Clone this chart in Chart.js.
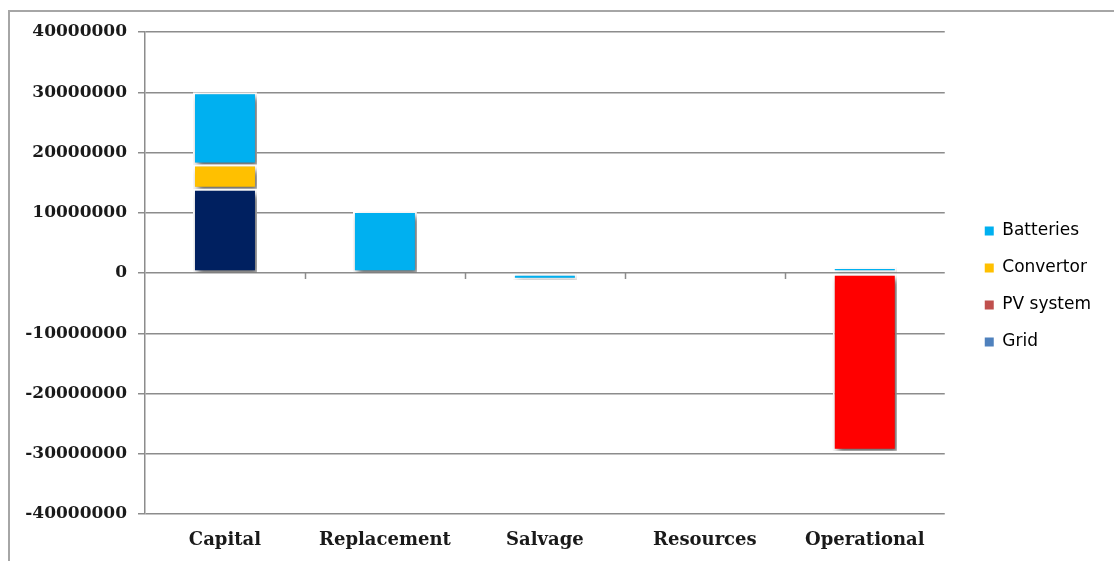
<!DOCTYPE html>
<html>
<head>
<meta charset="utf-8">
<script src="https://cdn.jsdelivr.net/npm/chart.js@4/dist/chart.umd.min.js"></script>
<style>
  html, body { margin: 0; padding: 0; background: #fff; }
  #wrap { width: 1114px; height: 561px; position: relative; }
</style>
</head>
<body>
<div id="wrap"><canvas id="c" width="1114" height="561"></canvas></div>
<script>
// Cost categories and the contribution of each component (currency units)
const categories = ['Capital', 'Replacement', 'Salvage', 'Resources', 'Operational'];
const batteries  = [12000000, 10300000, -1100000, null, 1000000];
const convertor  = [4000000, null, null, null, null];
const pvSystem   = [14000000, null, null, null, null];
const grid       = [null, null, null, null, -29500000];

const seriesNames   = ['Batteries', 'Convertor', 'PV system', 'Grid'];
const legendColors  = ['#00B0F0', '#FFC000', '#C0504D', '#4F81BD'];
const yTicks        = [40000000, 30000000, 20000000, 10000000, 0, -10000000, -20000000, -30000000, -40000000];

// Soft drop shadow under the bars
const shadowPlugin = {
  id: 'barShadow',
  beforeDatasetsDraw(chart) {
    const ctx = chart.ctx;
    ctx.save();
    ctx.shadowColor = 'rgba(0,0,0,0.6)';
    ctx.shadowBlur = 6;
    ctx.shadowOffsetX = 3;
    ctx.shadowOffsetY = 4;
  },
  afterDatasetsDraw(chart) {
    chart.ctx.restore();
  }
};

// Outer frame, legend placement and the small category tick marks on the zero line
const framePlugin = {
  id: 'frame',
  afterLayout(chart) {
    const lg = chart.legend;
    if (lg) {
      lg.left += 20; lg.right += 20;
      lg.top -= 10; lg.bottom -= 10;
    }
  },
  beforeDraw(chart) {
    const ctx = chart.ctx;
    ctx.save();
    ctx.strokeStyle = '#a6a6a6';
    ctx.lineWidth = 2;
    ctx.strokeRect(9, 11, 1300, 700);
    ctx.restore();
  },
  afterDatasetsDraw(chart) {
    const ctx = chart.ctx;
    const y = chart.scales.y;
    const y0 = y.getPixelForValue(0);
    const step = (chart.chartArea.right - chart.chartArea.left) / categories.length;
    ctx.save();
    ctx.shadowColor = 'transparent';
    ctx.strokeStyle = '#8c8c8c';
    ctx.lineWidth = 1.5;
    for (let i = 1; i < categories.length; i++) {
      const px = Math.round(chart.chartArea.left + step * i) + 0.5;
      ctx.beginPath();
      ctx.moveTo(px, y0);
      ctx.lineTo(px, y0 + 6);
      ctx.stroke();
    }
    ctx.restore();
  }
};

const common = { borderColor: '#ffffff', borderWidth: 2, borderSkipped: false, barPercentage: 0.4, categoryPercentage: 1.0 };

new Chart(document.getElementById('c'), {
  type: 'bar',
  data: {
    labels: categories,
    datasets: [
      Object.assign({ label: 'Grid',      data: grid,      backgroundColor: '#FF0000' }, common),
      Object.assign({ label: 'PV system', data: pvSystem,  backgroundColor: '#002060' }, common),
      Object.assign({ label: 'Convertor', data: convertor, backgroundColor: '#FFC000' }, common),
      Object.assign({ label: 'Batteries', data: batteries, backgroundColor: '#00B0F0' }, common)
    ]
  },
  options: {
    responsive: false,
    animation: false,
    devicePixelRatio: 1,
    layout: { padding: { left: 8, top: 32, right: 33, bottom: 0 } },
    plugins: {
      tooltip: { enabled: false },
      legend: {
        position: 'right',
        labels: {
          font: { family: 'DejaVu Sans', size: 17 },
          color: '#1a1a1a',
          boxWidth: 9,
          boxHeight: 9,
          padding: 20,
          generateLabels(chart) {
            return seriesNames.map((name, i) => ({
              text: name,
              fillStyle: legendColors[i],
              strokeStyle: legendColors[i],
              lineWidth: 0,
              hidden: false,
              datasetIndex: chart.data.datasets.findIndex(d => d.label === name)
            }));
          }
        }
      }
    },
    scales: {
      x: {
        stacked: true,
        grid: { display: false },
        border: { display: false },
        ticks: {
          font: { family: 'DejaVu Serif', size: 18, weight: 'bold' },
          color: '#1a1a1a',
          padding: 8,
          maxRotation: 0
        },
        afterFit(scale) { scale.height = 47; }
      },
      y: {
        stacked: true,
        min: -40000000,
        max: 40000000,
        afterBuildTicks(scale) { scale.ticks = yTicks.map(v => ({ value: v })); },
        grid: { color: '#8c8c8c', lineWidth: 1.5, tickLength: 7, drawTicks: true },
        border: { display: true, color: '#8c8c8c', width: 1.5 },
        ticks: {
          font: { family: 'DejaVu Serif', size: 17, weight: 'bold' },
          color: '#1a1a1a',
          padding: 11,
          callback: v => String(v)
        },
        afterFit(scale) { scale.width = 137; }
      }
    }
  },
  plugins: [shadowPlugin, framePlugin]
});
</script>
</body>
</html>
